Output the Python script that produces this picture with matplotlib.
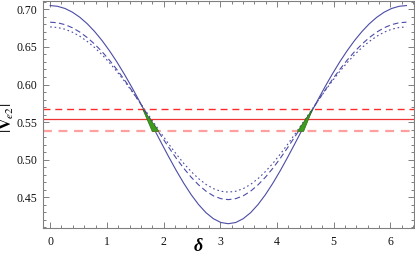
import numpy as np
import matplotlib
matplotlib.use("Agg")
import matplotlib.pyplot as plt
from matplotlib.ticker import MultipleLocator

plt.rcParams['mathtext.fontset'] = 'stix'

# ---- data ----
delta = np.linspace(0, 2 * np.pi, 49)
v_solid = [0.7050, 0.7040, 0.7011, 0.6962, 0.6894, 0.6808, 0.6704, 0.6584, 0.6448, 0.6299,
           0.6137, 0.5965, 0.5784, 0.5598, 0.5409, 0.5220, 0.5034, 0.4855, 0.4688, 0.4536,
           0.4404, 0.4296, 0.4216, 0.4166, 0.4150,
           0.4166, 0.4216, 0.4296, 0.4404, 0.4536, 0.4688, 0.4855, 0.5034, 0.5220, 0.5409,
           0.5598, 0.5784, 0.5965, 0.6137, 0.6299, 0.6448, 0.6584, 0.6704, 0.6808, 0.6894,
           0.6962, 0.7011, 0.7040, 0.7050]
v_dashed = [0.6829, 0.6821, 0.6796, 0.6755, 0.6697, 0.6624, 0.6537, 0.6436, 0.6323, 0.6198,
            0.6063, 0.5920, 0.5771, 0.5619, 0.5464, 0.5311, 0.5162, 0.5019, 0.4887, 0.4768,
            0.4666, 0.4582, 0.4520, 0.4483, 0.4470,
            0.4483, 0.4520, 0.4582, 0.4666, 0.4768, 0.4887, 0.5019, 0.5162, 0.5311, 0.5464,
            0.5619, 0.5771, 0.5920, 0.6063, 0.6198, 0.6323, 0.6436, 0.6537, 0.6624, 0.6697,
            0.6755, 0.6796, 0.6821, 0.6829]
v_dotted = [0.6766, 0.6758, 0.6735, 0.6696, 0.6642, 0.6573, 0.6491, 0.6396, 0.6289, 0.6172,
            0.6046, 0.5912, 0.5773, 0.5631, 0.5487, 0.5345, 0.5206, 0.5075, 0.4952, 0.4843,
            0.4749, 0.4672, 0.4616, 0.4581, 0.4570,
            0.4581, 0.4616, 0.4672, 0.4749, 0.4843, 0.4952, 0.5075, 0.5206, 0.5345, 0.5487,
            0.5631, 0.5773, 0.5912, 0.6046, 0.6172, 0.6289, 0.6396, 0.6491, 0.6573, 0.6642,
            0.6696, 0.6735, 0.6758, 0.6766]
h_upper = 0.5677
h_mid = 0.5536
h_lower = 0.5377
wedge1_delta = [1.63, 1.80, 1.92]
wedge1_v = [0.5677, 0.5377, 0.5377]
wedge2_delta = [4.63, 4.36, 4.47]
wedge2_v = [0.5677, 0.5377, 0.5377]
x_ticks = [0, 1, 2, 3, 4, 5, 6]
y_ticks = [0.45, 0.50, 0.55, 0.60, 0.65, 0.70]

# ---- figure ----
fig = plt.figure(figsize=(4.15, 2.58), dpi=100)
ax = fig.add_axes([0.1036, 0.116, 0.893, 0.88])

curve_col = '#4b4ba6'
ax.plot(delta, v_solid, color=curve_col, lw=0.8)
ax.plot(delta, v_dashed, color=curve_col, lw=0.8, dashes=(5, 3))
ax.plot(delta, v_dotted, color=curve_col, lw=0.8, dashes=(1.5, 2.5))

ax.axhline(h_upper, color='#ff2a2a', lw=1.0, dashes=(5, 3.5))
ax.axhline(h_mid, color='#ee3535', lw=0.9)
ax.axhline(h_lower, color='#ffa0a0', lw=1.6, dashes=(4, 3))

ax.fill(wedge1_delta, wedge1_v, color='#3c9c1c', ec='#2e6e18', lw=0.5, zorder=3)
ax.fill(wedge2_delta, wedge2_v, color='#3c9c1c', ec='#2e6e18', lw=0.5, zorder=3)

ax.set_xlim(-0.126, 6.409)
ax.set_ylim(0.4092, 0.711)
ax.set_xticks(x_ticks)
ax.set_yticks(y_ticks)
ax.set_yticklabels([f"{t:.2f}" for t in y_ticks])
ax.xaxis.set_minor_locator(MultipleLocator(0.2))
ax.yaxis.set_minor_locator(MultipleLocator(0.01))

serif = ['Liberation Serif', 'DejaVu Serif']
for lab in ax.get_xticklabels() + ax.get_yticklabels():
    lab.set_fontfamily(serif)
    lab.set_fontsize(8.5)
    lab.set_color('#111111')

ax.tick_params(which='both', direction='in', top=True, right=True, color='#808080', width=0.7)
ax.tick_params(which='major', length=4)
ax.tick_params(axis='x', which='major', pad=6)
ax.tick_params(axis='y', which='major', pad=4)
ax.tick_params(which='minor', length=2)
for s in ax.spines.values():
    s.set_color('#808080')
    s.set_linewidth(0.8)

fig.text(0.477, 0.045, 'δ', fontfamily=serif, fontsize=13, fontweight='bold',
         fontstyle='italic', ha='center', va='center')
fig.text(0.019, 0.545, r'$|\mathbf{V}_{e2}|$', fontsize=11.5, rotation=90,
         ha='center', va='center')

fig.savefig('out.png', dpi=100)
